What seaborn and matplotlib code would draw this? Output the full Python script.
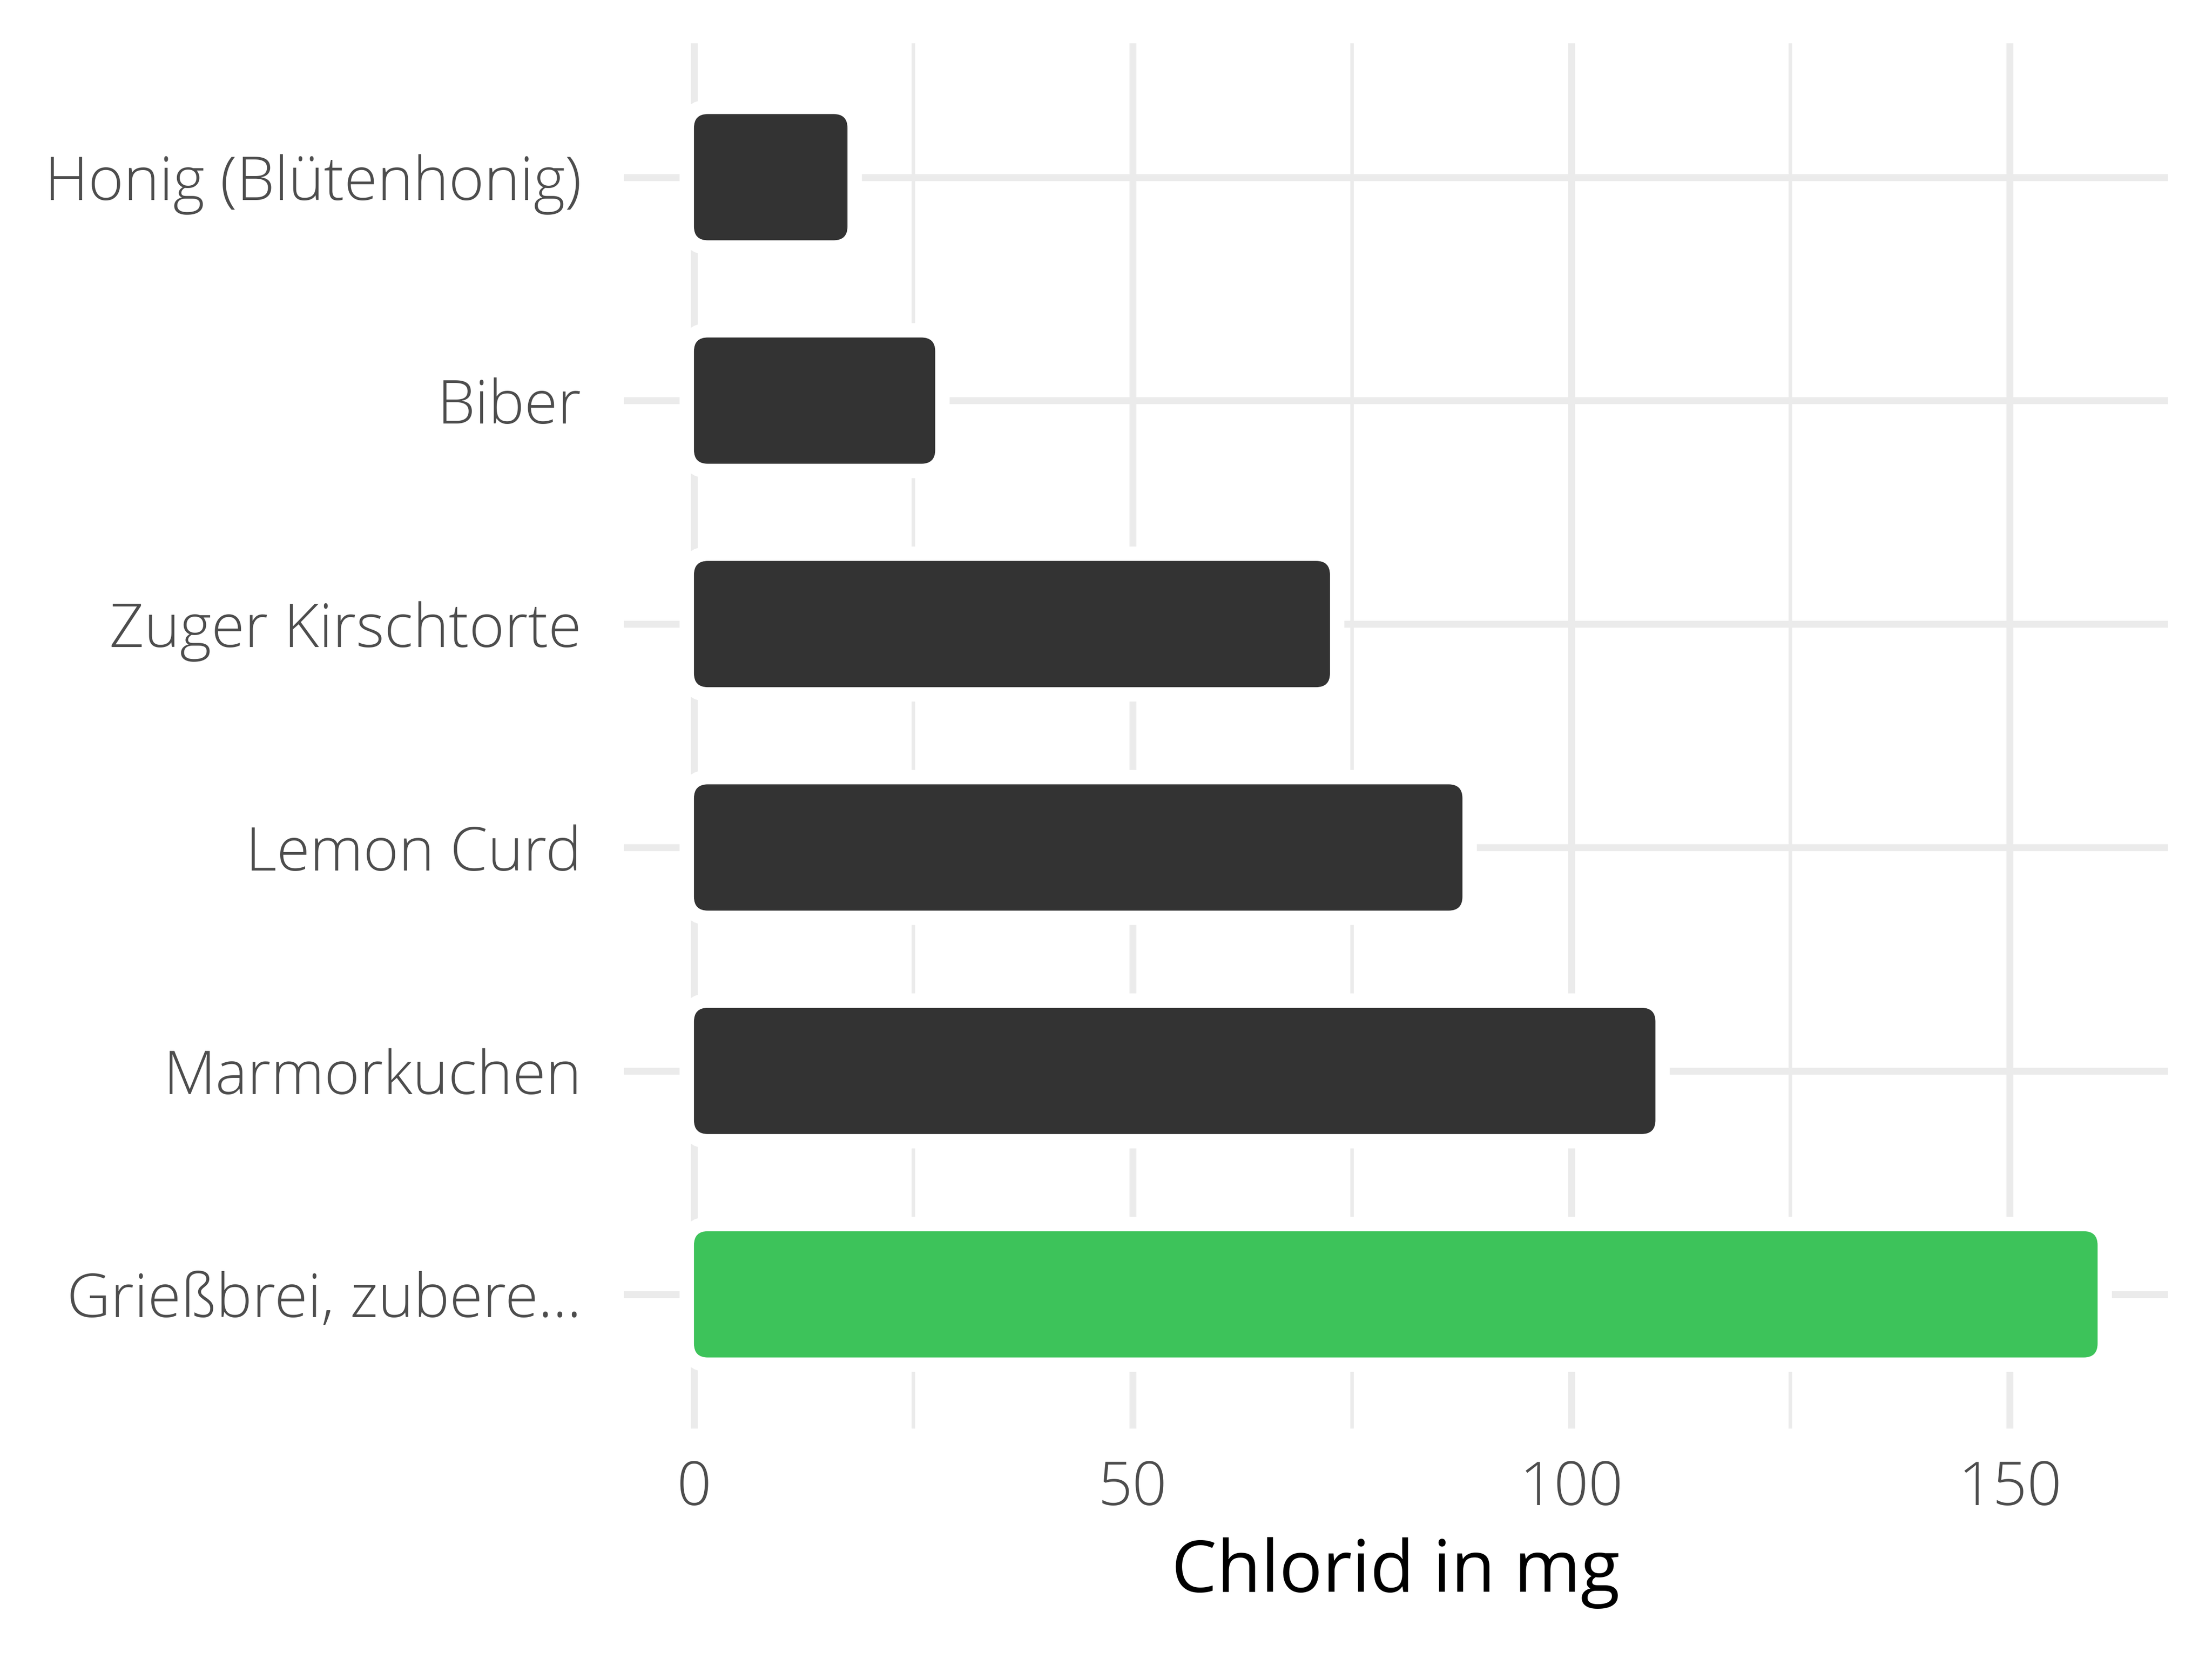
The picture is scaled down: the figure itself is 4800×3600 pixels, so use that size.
import matplotlib
matplotlib.use("Agg")
import matplotlib.pyplot as plt
import seaborn as sns
import pandas as pd
from matplotlib.patches import FancyBboxPatch

# daten
lebensmittel = [
    "Honig (Blütenhonig)",
    "Biber",
    "Zuger Kirschtorte",
    "Lemon Curd",
    "Marmorkuchen",
    "Grießbrei, zubere...",
]
chlorid = [17.5, 27.5, 72.5, 87.6, 109.6, 160.0]
farben = ["#333333", "#333333", "#333333", "#333333", "#333333", "#3DC35A"]
x_ticks = [0, 50, 100, 150]

df = pd.DataFrame({"Lebensmittel": lebensmittel, "Chlorid": chlorid})

sns.set_theme(style="white")
plt.rcParams["font.family"] = ["Open Sans", "DejaVu Sans"]
plt.rcParams["font.weight"] = "light"

fig = plt.figure(figsize=(16, 12), dpi=300)
pos = [0.282, 0.139, 0.698, 0.835]
ax = fig.add_axes(pos)

sns.barplot(data=df, x="Chlorid", y="Lebensmittel", hue="Lebensmittel",
            palette=farben, saturation=1, legend=False, width=0.565, ax=ax, zorder=3)

ax.set_xlim(-8, 168)
ax.set_ylim(len(lebensmittel) - 0.4, -0.6)

# abgerundete balken mit weissem rand
fig_w_px = 16 * pos[2] * 300
fig_h_px = 12 * pos[3] * 300
x_per_px = 176 / fig_w_px
y_per_px = 6.2 / fig_h_px
r_px = 30
for bar in list(ax.patches):
    x0, y0 = bar.get_x(), bar.get_y()
    w, h = bar.get_width(), bar.get_height()
    col = bar.get_facecolor()
    bar.remove()
    for lw, fc, ec, z in [(15, "white", "white", 2.5), (0, col, "none", 3)]:
        p = FancyBboxPatch((x0, y0), w, h,
                           boxstyle=f"round,pad=0,rounding_size={r_px * x_per_px}",
                           mutation_aspect=y_per_px / x_per_px,
                           facecolor=fc, edgecolor=ec, linewidth=lw, zorder=z)
        ax.add_patch(p)

# gitter
ax.set_xticks(x_ticks)
ax.set_xticks([25, 75, 125], minor=True)
ax.grid(axis="x", which="major", color="#EBEBEB", linewidth=3.6, zorder=1)
ax.grid(axis="x", which="minor", color="#EBEBEB", linewidth=1.8, zorder=1)
ax.grid(axis="y", which="major", color="#EBEBEB", linewidth=3.6, zorder=1)
ax.set_axisbelow(True)
for s in ax.spines.values():
    s.set_visible(False)

ax.tick_params(axis="both", which="both", length=0, labelsize=31.5, labelcolor="#4D4D4D")
ax.tick_params(axis="y", pad=22)
ax.tick_params(axis="x", pad=16)
ax.set_ylabel("")
ax.set_xlabel("Chlorid in mg", fontsize=37.5, color="black", labelpad=9)

fig.savefig("out.png", dpi=300)
